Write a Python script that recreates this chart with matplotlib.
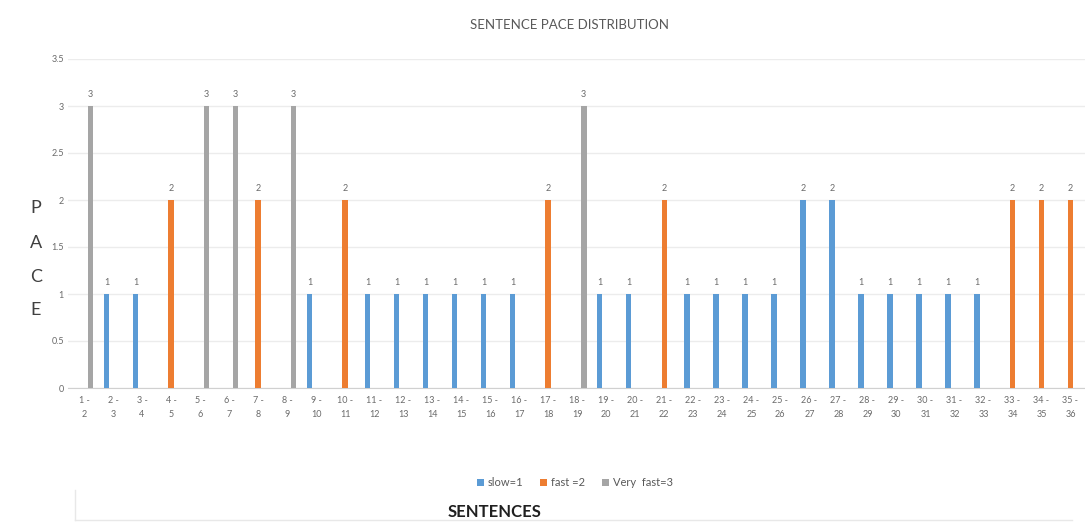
import matplotlib.pyplot as plt
import numpy as np

plt.rcParams['font.family'] = ['Lato', 'DejaVu Sans']

# sentence pairs 1-2 ... 35-36
categories = [f"{i} -\n{i + 1}" for i in range(1, 36)]

# one value per category; 0 means the series has no bar there
slow = [0, 1, 1, 0, 0, 0, 0, 0, 1, 0, 1, 1, 1, 1, 1, 1, 0, 0, 1, 1,
        0, 1, 1, 1, 1, 2, 2, 1, 1, 1, 1, 1, 0, 0, 0]
fast = [0, 0, 0, 2, 0, 0, 2, 0, 0, 2, 0, 0, 0, 0, 0, 0, 2, 0, 0, 0,
        2, 0, 0, 0, 0, 0, 0, 0, 0, 0, 0, 0, 2, 2, 2]
very_fast = [3, 0, 0, 0, 3, 3, 0, 3, 0, 0, 0, 0, 0, 0, 0, 0, 0, 3, 0, 0,
             0, 0, 0, 0, 0, 0, 0, 0, 0, 0, 0, 0, 0, 0, 0]

series = [("slow=1", slow, "#5B9BD5"),
          ("fast =2", fast, "#ED7D31"),
          ("Very  fast=3", very_fast, "#A5A5A5")]

fig = plt.figure(figsize=(10.85, 5.22), dpi=100)
ax = fig.add_axes([68 / 1085, 1 - 388 / 522, 1 - 68 / 1085, (388 - 59) / 522])

x = np.arange(len(categories))
offset = 0.225
width = 0.19
for k, (name, vals, col) in enumerate(series):
    vals = np.array(vals, dtype=float)
    pos = x + (k - 1) * offset
    h = np.where(vals > 0, vals, np.nan)
    ax.bar(pos, h, width=width, color=col, label=name, zorder=3)
    for p, v in zip(pos, vals):
        if v > 0:
            ax.annotate(f"{int(v)}", (p, v), xytext=(0, 5), textcoords="offset points",
                        ha="center", va="bottom", fontsize=6.5, color="#6a6a6a")

ax.set_xlim(-0.55, len(categories) - 0.5)
ax.set_ylim(0, 3.5)
ax.set_yticks(np.arange(0, 3.51, 0.5))
ax.set_yticklabels(["0", "0.5", "1", "1.5", "2", "2.5", "3", "3.5"])
ax.set_xticks(x)
ax.set_xticklabels(categories, linespacing=1.6)
ax.tick_params(axis="both", length=0, labelsize=6.5, labelcolor="#6a6a6a")
ax.tick_params(axis="y", pad=3)
ax.tick_params(axis="x", pad=6)
ax.grid(axis="y", color="#ececec", linewidth=1, zorder=0)
for s in ["top", "right", "left"]:
    ax.spines[s].set_visible(False)
ax.spines["bottom"].set_color("#d0d0d0")

fig.text(0.525, 0.952, "SENTENCE PACE DISTRIBUTION", ha="center", va="center",
         fontsize=9.5, color="#595959")

for ch, yy in zip("PACE", [208, 243, 277, 310]):
    fig.text(36 / 1085, 1 - yy / 522, ch, ha="center", va="center",
             fontsize=13, color="#404040")

fig.text(495 / 1085, 1 - 512 / 522, "SENTENCES", ha="center", va="center",
         fontsize=12, fontweight="bold", color="#202020")

fig.legend(loc="center", bbox_to_anchor=(0.53, 1 - 483 / 522), ncol=3, frameon=False,
           fontsize=8, labelcolor="#595959", handlelength=0.6, handleheight=0.6,
           handletextpad=0.4, columnspacing=1.5)

# faint border of the surrounding box
fig.add_artist(plt.Line2D([75 / 1085, 1072 / 1085], [2 / 522, 2 / 522], color="#e8e8e8", lw=1))
fig.add_artist(plt.Line2D([75 / 1085, 75 / 1085], [2 / 522, 32 / 522], color="#e8e8e8", lw=1))

fig.savefig("out.png", dpi=100)
